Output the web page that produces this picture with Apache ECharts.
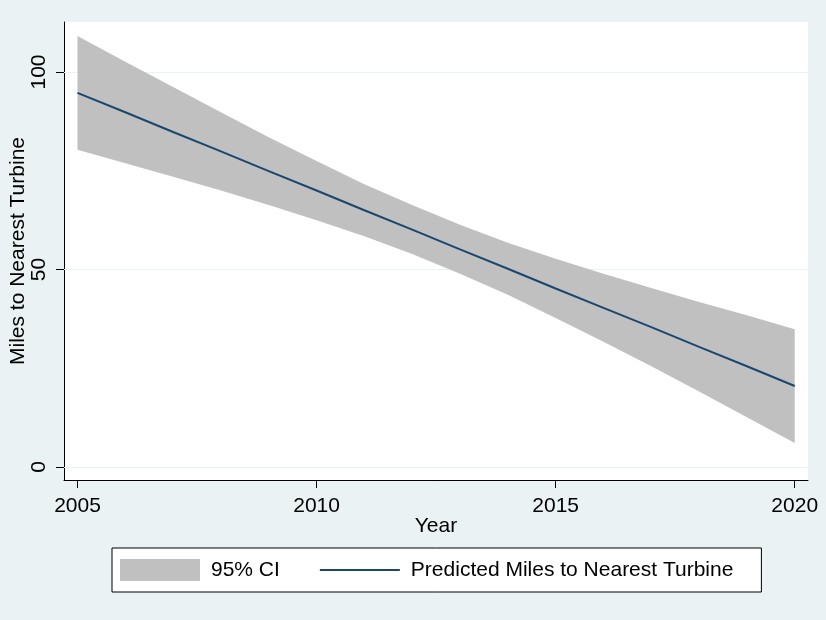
<!DOCTYPE html>
<html>
<head>
<meta charset="utf-8">
<script src="https://cdn.jsdelivr.net/npm/echarts@6/dist/echarts.min.js"></script>
<style>
html,body{margin:0;padding:0;background:#eaf2f3;}
#chart{width:826px;height:620px;}
</style>
</head>
<body>
<div id="chart"></div>
<script>
// Data
const years     = [2005, 2006, 2007, 2008, 2009, 2010, 2011, 2012, 2013, 2014, 2015, 2016, 2017, 2018, 2019, 2020];
const predicted = [94.7, 89.8, 84.8, 79.9, 74.9, 70.0, 65.0, 60.1, 55.1, 50.2, 45.2, 40.3, 35.4, 30.4, 25.5, 20.5];
const ciUpper   = [109.1, 102.6, 96.2, 89.8, 83.5, 77.5, 71.6, 66.3, 61.3, 56.8, 52.7, 48.9, 45.3, 41.8, 38.4, 34.9];
const ciLower   = [80.3, 76.9, 73.5, 70.0, 66.3, 62.5, 58.4, 53.9, 48.9, 43.6, 37.7, 31.7, 25.5, 19.1, 12.6, 6.1];
const xTicks = [2005, 2010, 2015, 2020];
const yTicks = [0, 50, 100];

const FONT = 'Liberation Sans, Arial, sans-serif';
const FS = 21;
const lineData = years.map((y, i) => [y, predicted[i]]);
const bandData = years.map((y, i) => [y, ciLower[i], ciUpper[i]]);

const chart = echarts.init(document.getElementById('chart'), null, {renderer: 'canvas'});
chart.setOption({
  backgroundColor: '#eaf2f3',
  animation: false,
  textStyle: {fontFamily: FONT},
  grid: {left: 64, right: 18, top: 22, bottom: 140, show: true, backgroundColor: '#ffffff', borderWidth: 0,
         containLabel: false, outerBoundsMode: 'none'},
  legend: {
    left: 112, top: 548,
    selectedMode: false,
    orient: 'horizontal',
    backgroundColor: '#ffffff',
    borderColor: '#000000',
    borderWidth: 1,
    borderRadius: 0,
    padding: [11, 28, 11, 8],
    itemWidth: 80,
    itemHeight: 22,
    itemGap: 39,
    textStyle: {fontSize: FS, color: '#000', fontFamily: FONT, padding: [0, 0, 0, 6]},
    data: [
      {name: '95% CI', icon: 'rect', itemStyle: {color: '#c0c0c0'}},
      {name: 'Predicted Miles to Nearest Turbine', itemStyle: {color: 'rgba(0,0,0,0)', borderWidth: 0, opacity: 0}}
    ]
  },
  xAxis: {
    type: 'value',
    min: 2004.718, max: 2020.278,
    name: 'Year', nameLocation: 'middle', nameGap: 36, nameMoveOverlap: false,
    nameTextStyle: {fontSize: FS, color: '#000', fontFamily: FONT},
    axisLine: {show: true, onZero: false, lineStyle: {color: '#000', width: 1}},
    axisTick: {show: true, length: 8, customValues: xTicks, lineStyle: {color: '#000'}},
    axisLabel: {customValues: xTicks, fontSize: FS, color: '#000', margin: 16, fontFamily: FONT, formatter: v => String(v)},
    splitLine: {show: false}
  },
  yAxis: {
    type: 'value',
    min: -3.29, max: 112.66,
    name: 'Miles to Nearest Turbine', nameLocation: 'middle', nameGap: 35, nameMoveOverlap: false,
    nameTextStyle: {fontSize: FS, color: '#000', fontFamily: FONT},
    axisLine: {show: true, onZero: false, lineStyle: {color: '#000', width: 1}},
    axisTick: {show: true, length: 8, customValues: yTicks, lineStyle: {color: '#000'}},
    axisLabel: {customValues: yTicks, rotate: 90, fontSize: FS, color: '#000', margin: 14, fontFamily: FONT, formatter: v => String(v)},
    splitLine: {show: false}
  },
  series: [
    {
      name: '95% CI', type: 'custom', data: bandData,
      color: '#c0c0c0', itemStyle: {color: '#c0c0c0'}, silent: true, z: 2,
      encode: {x: 0, y: [1, 2]},
      renderItem: function (params, api) {
        if (params.dataIndex !== 0) return null;
        const up = bandData.map(d => api.coord([d[0], d[2]]));
        const lo = bandData.map(d => api.coord([d[0], d[1]])).reverse();
        return {
          type: 'polygon',
          shape: {points: up.concat(lo)},
          style: {fill: '#c0c0c0', stroke: null}
        };
      },
      markLine: {
        silent: true, symbol: 'none', z: 1,
        label: {show: false},
        lineStyle: {color: '#eaf2f3', width: 1, type: 'solid'},
        data: yTicks.map(v => ({yAxis: v}))
      }
    },
    {
      name: 'Predicted Miles to Nearest Turbine', type: 'line', data: lineData,
      symbol: 'none', color: '#1a476f', lineStyle: {color: '#1a476f', width: 2}, silent: true, z: 3
    }
  ]
});
</script>
</body>
</html>
